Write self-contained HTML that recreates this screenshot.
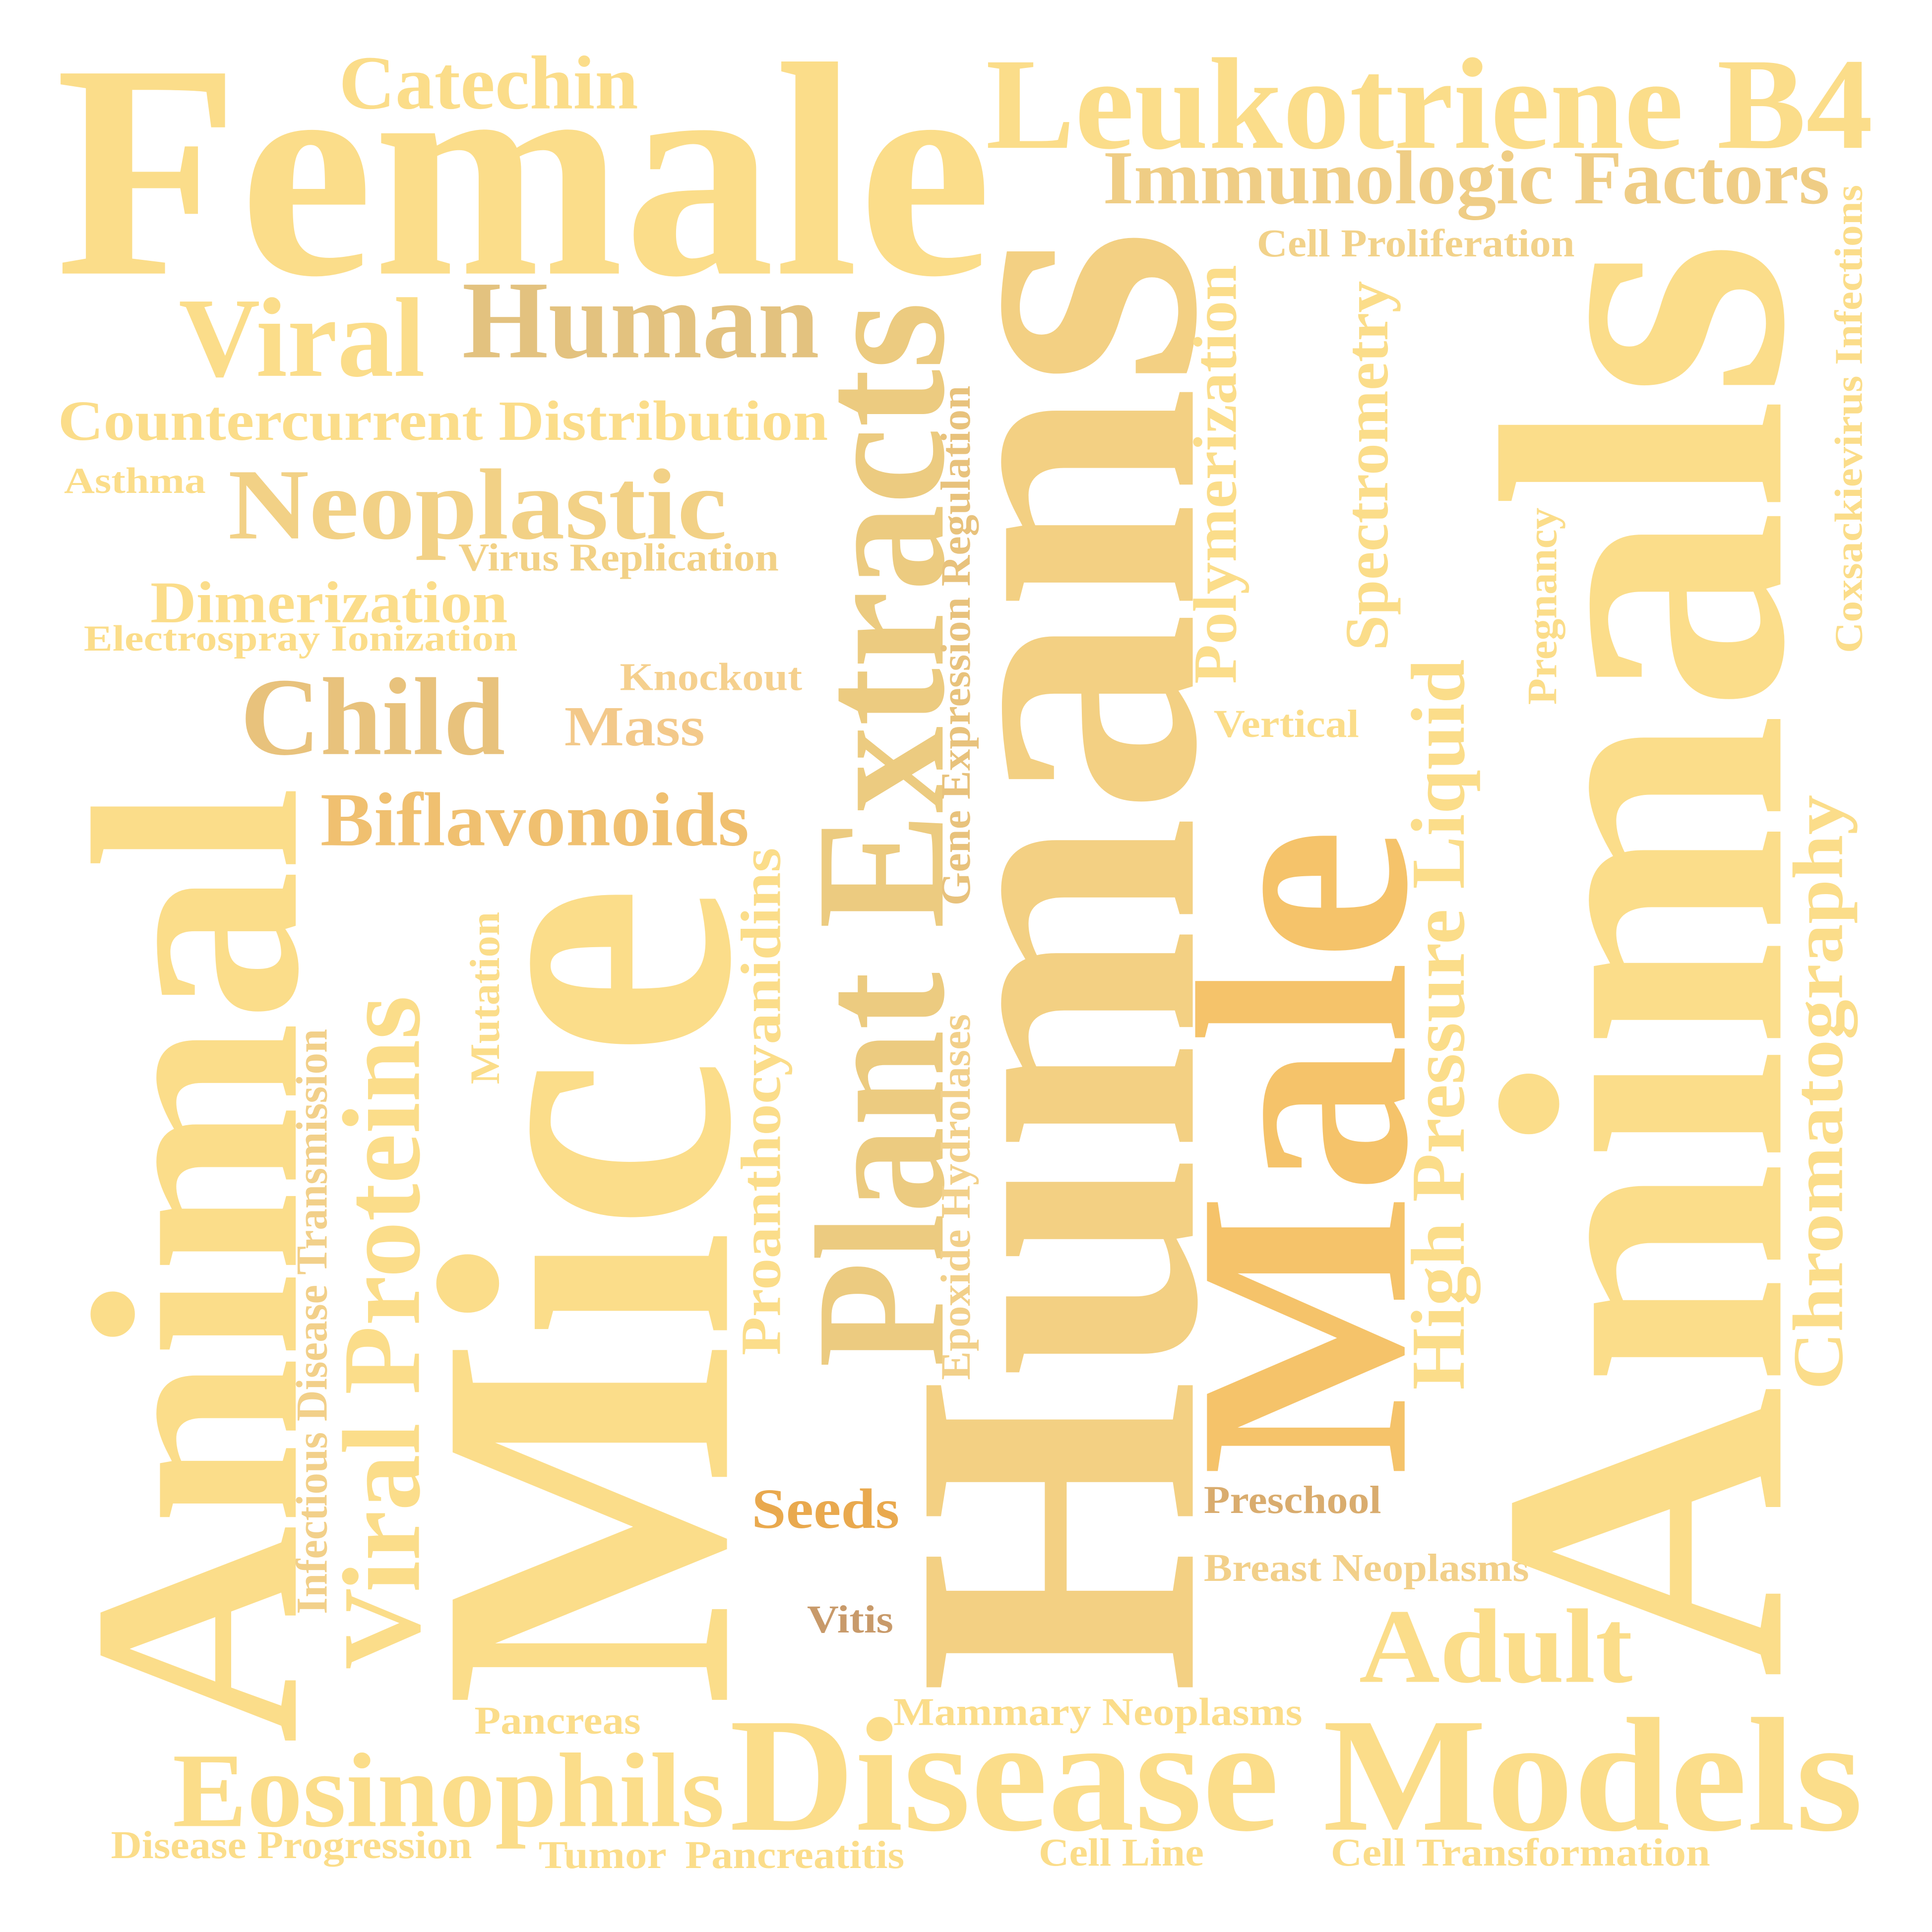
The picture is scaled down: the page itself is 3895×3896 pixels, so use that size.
<!DOCTYPE html>
<html><head><meta charset="utf-8"><style>
html,body{margin:0;padding:0;background:#fff;width:3895px;height:3896px;overflow:hidden}
svg{display:block}
text{font-family:"Liberation Serif",serif;font-weight:bold}
</style></head><body>
<svg width="3895" height="3896" viewBox="0 0 1568 1568" preserveAspectRatio="none" xmlns="http://www.w3.org/2000/svg">
<rect width="1568" height="1568" fill="#fff"/>
<g fill="#fbdd8a">
<text x="45" y="222" font-size="248" textLength="760" lengthAdjust="spacingAndGlyphs">Female</text>
<text x="275" y="88" font-size="62" textLength="243" lengthAdjust="spacingAndGlyphs">Catechin</text>
<text x="800" y="120" font-size="106" textLength="720" lengthAdjust="spacingAndGlyphs">Leukotriene B4</text>
<text x="895" y="165" font-size="62" textLength="590" lengthAdjust="spacingAndGlyphs" fill="#efcd85">Immunologic Factors</text>
<text x="1020" y="208" font-size="32" textLength="258" lengthAdjust="spacingAndGlyphs" fill="#f2d28a">Cell Proliferation</text>
<text x="145" y="305" font-size="92" textLength="200" lengthAdjust="spacingAndGlyphs">Viral</text>
<text x="375" y="290" font-size="90" textLength="290" lengthAdjust="spacingAndGlyphs" fill="#e3c27f">Human</text>
<text x="47" y="357" font-size="46" textLength="625" lengthAdjust="spacingAndGlyphs">Countercurrent Distribution</text>
<text x="52" y="400" font-size="30" textLength="115" lengthAdjust="spacingAndGlyphs">Asthma</text>
<text x="185" y="437" font-size="82" textLength="405" lengthAdjust="spacingAndGlyphs" fill="#f2d186">Neoplastic</text>
<text x="372" y="463" font-size="32" textLength="260" lengthAdjust="spacingAndGlyphs" fill="#f2d186">Virus Replication</text>
<text x="122" y="505" font-size="48" textLength="290" lengthAdjust="spacingAndGlyphs">Dimerization</text>
<text x="68" y="528" font-size="30" textLength="352" lengthAdjust="spacingAndGlyphs">Electrospray Ionization</text>
<text x="503" y="560" font-size="32" textLength="148" lengthAdjust="spacingAndGlyphs" fill="#f5d08e">Knockout</text>
<text x="195" y="612" font-size="90" textLength="215" lengthAdjust="spacingAndGlyphs" fill="#e8c27c">Child</text>
<text x="458" y="605" font-size="46" textLength="114" lengthAdjust="spacingAndGlyphs" fill="#f3c98a">Mass</text>
<text x="260" y="686" font-size="62" textLength="348" lengthAdjust="spacingAndGlyphs" fill="#f0c070">Biflavonoids</text>
<text x="985" y="598" font-size="32" textLength="118" lengthAdjust="spacingAndGlyphs">Vertical</text>
<text x="610" y="1240" font-size="46" textLength="120" lengthAdjust="spacingAndGlyphs" fill="#e9a94e">Seeds</text>
<text x="977" y="1228" font-size="32" textLength="144" lengthAdjust="spacingAndGlyphs" fill="#d9ac6e">Preschool</text>
<text x="977" y="1283" font-size="32" textLength="264" lengthAdjust="spacingAndGlyphs" fill="#f2d08a">Breast Neoplasms</text>
<text x="655" y="1325" font-size="32" textLength="70" lengthAdjust="spacingAndGlyphs" fill="#c89a6a">Vitis</text>
<text x="1103" y="1365" font-size="86" textLength="222" lengthAdjust="spacingAndGlyphs">Adult</text>
<text x="725" y="1400" font-size="32" textLength="332" lengthAdjust="spacingAndGlyphs">Mammary Neoplasms</text>
<text x="385" y="1407" font-size="32" textLength="135" lengthAdjust="spacingAndGlyphs">Pancreas</text>
<text x="140" y="1482" font-size="86" textLength="448" lengthAdjust="spacingAndGlyphs">Eosinophils</text>
<text x="592" y="1485" font-size="132" textLength="920" lengthAdjust="spacingAndGlyphs">Disease Models</text>
<text x="90" y="1508" font-size="32" textLength="293" lengthAdjust="spacingAndGlyphs">Disease Progression</text>
<text x="437" y="1516" font-size="32" textLength="104" lengthAdjust="spacingAndGlyphs">Tumor</text>
<text x="556" y="1516" font-size="32" textLength="178" lengthAdjust="spacingAndGlyphs">Pancreatitis</text>
<text x="843" y="1514" font-size="32" textLength="134" lengthAdjust="spacingAndGlyphs">Cell Line</text>
<text x="1080" y="1514" font-size="32" textLength="308" lengthAdjust="spacingAndGlyphs">Cell Transformation</text>

<text transform="translate(240,1415) rotate(-90)" font-size="240" textLength="777" lengthAdjust="spacingAndGlyphs">Animal</text>
<text transform="translate(590,1385) rotate(-90)" font-size="340" textLength="667" lengthAdjust="spacingAndGlyphs">Mice</text>
<text transform="translate(340,1355) rotate(-90)" font-size="90" textLength="547" lengthAdjust="spacingAndGlyphs">Viral Proteins</text>
<text transform="translate(265,1310) rotate(-90)" font-size="36" textLength="475" lengthAdjust="spacingAndGlyphs" fill="#f2d08a">Infectious Disease Transmission</text>
<text transform="translate(405,880) rotate(-90)" font-size="34" textLength="140" lengthAdjust="spacingAndGlyphs">Mutation</text>
<text transform="translate(633,1100) rotate(-90)" font-size="46" textLength="412" lengthAdjust="spacingAndGlyphs">Proanthocyanidins</text>
<text transform="translate(765,1110) rotate(-90)" font-size="150" textLength="865" lengthAdjust="spacingAndGlyphs" fill="#eccb80">Plant Extracts</text>
<text transform="translate(787,735) rotate(-90)" font-size="34" textLength="422" lengthAdjust="spacingAndGlyphs" fill="#e8c27c">Gene Expression Regulation</text>
<text transform="translate(787,1120) rotate(-90)" font-size="34" textLength="297" lengthAdjust="spacingAndGlyphs" fill="#f2d08a">Epoxide Hydrolases</text>
<text transform="translate(968,1375) rotate(-90)" font-size="330" textLength="1190" lengthAdjust="spacingAndGlyphs" fill="#f3d083">Humans</text>
<text transform="translate(1003,555) rotate(-90)" font-size="50" textLength="340" lengthAdjust="spacingAndGlyphs">Polymerization</text>
<text transform="translate(1140,1198) rotate(-90)" font-size="245" textLength="526" lengthAdjust="spacingAndGlyphs" fill="#f5c36a">Male</text>
<text transform="translate(1126,528) rotate(-90)" font-size="50" textLength="300" lengthAdjust="spacingAndGlyphs">Spectrometry</text>
<text transform="translate(1188,1128) rotate(-90)" font-size="62" textLength="593" lengthAdjust="spacingAndGlyphs">High Pressure Liquid</text>
<text transform="translate(1263,572) rotate(-90)" font-size="34" textLength="160" lengthAdjust="spacingAndGlyphs">Pregnancy</text>
<text transform="translate(1445,1362) rotate(-90)" font-size="330" textLength="1167" lengthAdjust="spacingAndGlyphs">Animals</text>
<text transform="translate(1511,530) rotate(-90)" font-size="32" textLength="380" lengthAdjust="spacingAndGlyphs">Coxsackievirus Infections</text>
<text transform="translate(1495,1128) rotate(-90)" font-size="58" textLength="483" lengthAdjust="spacingAndGlyphs">Chromatography</text>
</g>
</svg>
</body></html>
